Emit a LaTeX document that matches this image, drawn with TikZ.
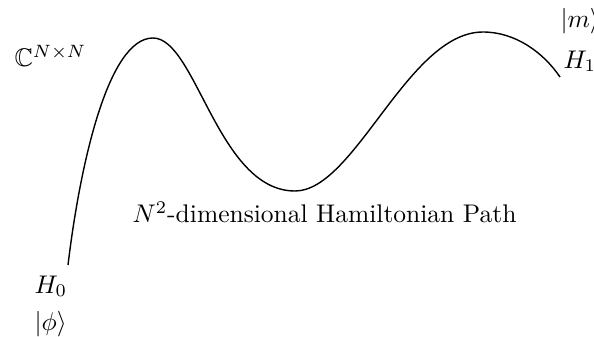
\documentclass[tikz,border=0pt]{standalone}
\usepackage{amssymb}
\begin{document}
\begin{tikzpicture}[x=0.392pt,y=-0.392pt,
  lbl/.style={inner sep=0pt,anchor=base west}]
\useasboundingbox (0,0) rectangle (594,337);
\coordinate (s) at (68,265);
\coordinate (p1) at (153,38);
\coordinate (v) at (295,191);
\coordinate (p2) at (483,32);
\coordinate (e) at (560,77);
\draw[line width=0.55pt] (s) .. controls (80,165) and (108,38) .. (p1)
  .. controls (196,38) and (218,191) .. (v)
  .. controls (355,191) and (408,32) .. (p2)
  .. controls (515,32) and (543,52) .. (e);
\node[lbl] (c) at (14,67) {$\mathbb{C}^{N\times N}$};
\node[lbl] (m) at (560,27) {$|m\rangle$};
\node[lbl] (h1) at (563,68) {$H_1$};
\node[lbl] (h0) at (34,293) {$H_0$};
\node[lbl] (phi) at (34,330) {$|\phi\rangle$};
\node[lbl] (t) at (132,223) {$N^2$-dimensional Hamiltonian Path};
\end{tikzpicture}
\end{document}
